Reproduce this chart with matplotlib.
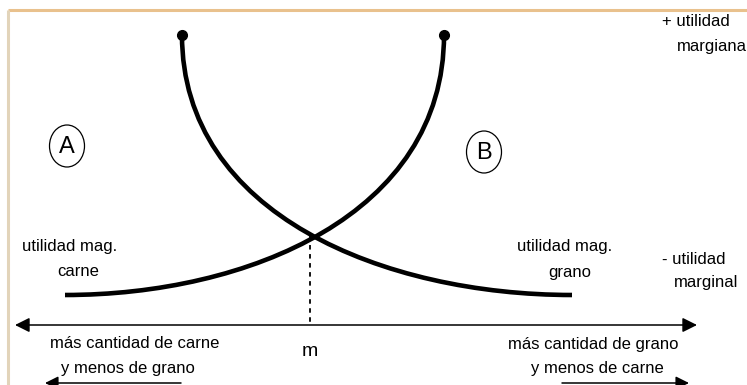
import numpy as np
import matplotlib
matplotlib.use("Agg")
import matplotlib.pyplot as plt
from matplotlib.patches import Ellipse, PathPatch
from matplotlib.path import Path

plt.rcParams['font.family'] = ['Liberation Sans', 'DejaVu Sans']

# bezier control points (pixel coords, y down)
grano_x = [182, 182, 385, 572]
grano_y = [35, 215, 295, 295]
carne_x = [444, 444, 247, 65]
carne_y = [35, 215, 295, 295]

m_x = 310
axis_y = 325

fig = plt.figure(figsize=(7.47, 3.85), dpi=100)
ax = fig.add_axes([0, 0, 1, 1])
ax.set_xlim(0, 747)
ax.set_ylim(385, 0)
ax.axis('off')

# frame
ax.plot([8, 747], [10, 10], color='#E9C18D', lw=2.2, solid_capstyle='butt')
ax.plot([8, 8], [10, 385], color='#E2D4BA', lw=2.2, solid_capstyle='butt')

# curves
codes = [Path.MOVETO, Path.CURVE4, Path.CURVE4, Path.CURVE4]
for xs, ys in [(grano_x, grano_y), (carne_x, carne_y)]:
    p = Path(np.column_stack([xs, ys]), codes)
    ax.add_patch(PathPatch(p, fill=False, ec='black', lw=3.3, capstyle='butt'))
ax.plot([grano_x[0], carne_x[0]], [grano_y[0], carne_y[0]], 'o', color='black', ms=7)

# dashed line to m
ax.plot([m_x, m_x], [236, axis_y], color='black', lw=1.3, ls=(0, (2.5, 2.5)))

# main axis
ax.annotate('', xy=(15, axis_y), xytext=(697, axis_y),
            arrowprops=dict(arrowstyle='<|-|>', color='black', lw=1.1,
                            mutation_scale=22, shrinkA=0, shrinkB=0))
# small arrows
ax.annotate('', xy=(45, 383), xytext=(181, 383),
            arrowprops=dict(arrowstyle='-|>', color='black', lw=1.1,
                            mutation_scale=20, shrinkA=0, shrinkB=0))
ax.annotate('', xy=(689, 383), xytext=(562, 383),
            arrowprops=dict(arrowstyle='-|>', color='black', lw=1.1,
                            mutation_scale=20, shrinkA=0, shrinkB=0))

# circles
for cx, cy, lab in [(67, 146, 'A'), (484, 152, 'B')]:
    ax.add_patch(Ellipse((cx, cy), 35, 42, fill=False, ec='black', lw=0.9))
    ax.text(cx, cy + 1, lab, ha='center', va='center', fontsize=17)

fs = 12
ax.text(22, 247, 'utilidad mag.', ha='left', va='center', fontsize=fs)
ax.text(78, 272, 'carne', ha='center', va='center', fontsize=fs)
ax.text(565, 247, 'utilidad mag.', ha='center', va='center', fontsize=fs)
ax.text(570, 272, 'grano', ha='center', va='center', fontsize=fs)
ax.text(662, 260, '- utilidad', ha='left', va='center', fontsize=fs)
ax.text(674, 283, 'marginal', ha='left', va='center', fontsize=fs)
ax.text(662, 22, '+ utilidad', ha='left', va='center', fontsize=fs)
ax.text(677, 47, 'margiana', ha='left', va='center', fontsize=fs)

ax.text(m_x, 351, 'm', ha='center', va='center', fontsize=14)
ax.text(135, 344, 'más cantidad de carne', ha='center', va='center', fontsize=fs)
ax.text(128, 368, 'y menos de grano', ha='center', va='center', fontsize=fs)
ax.text(593, 344, 'más cantidad de grano', ha='center', va='center', fontsize=fs)
ax.text(597, 368, 'y menos de carne', ha='center', va='center', fontsize=fs)

fig.savefig('out.png', dpi=100)
